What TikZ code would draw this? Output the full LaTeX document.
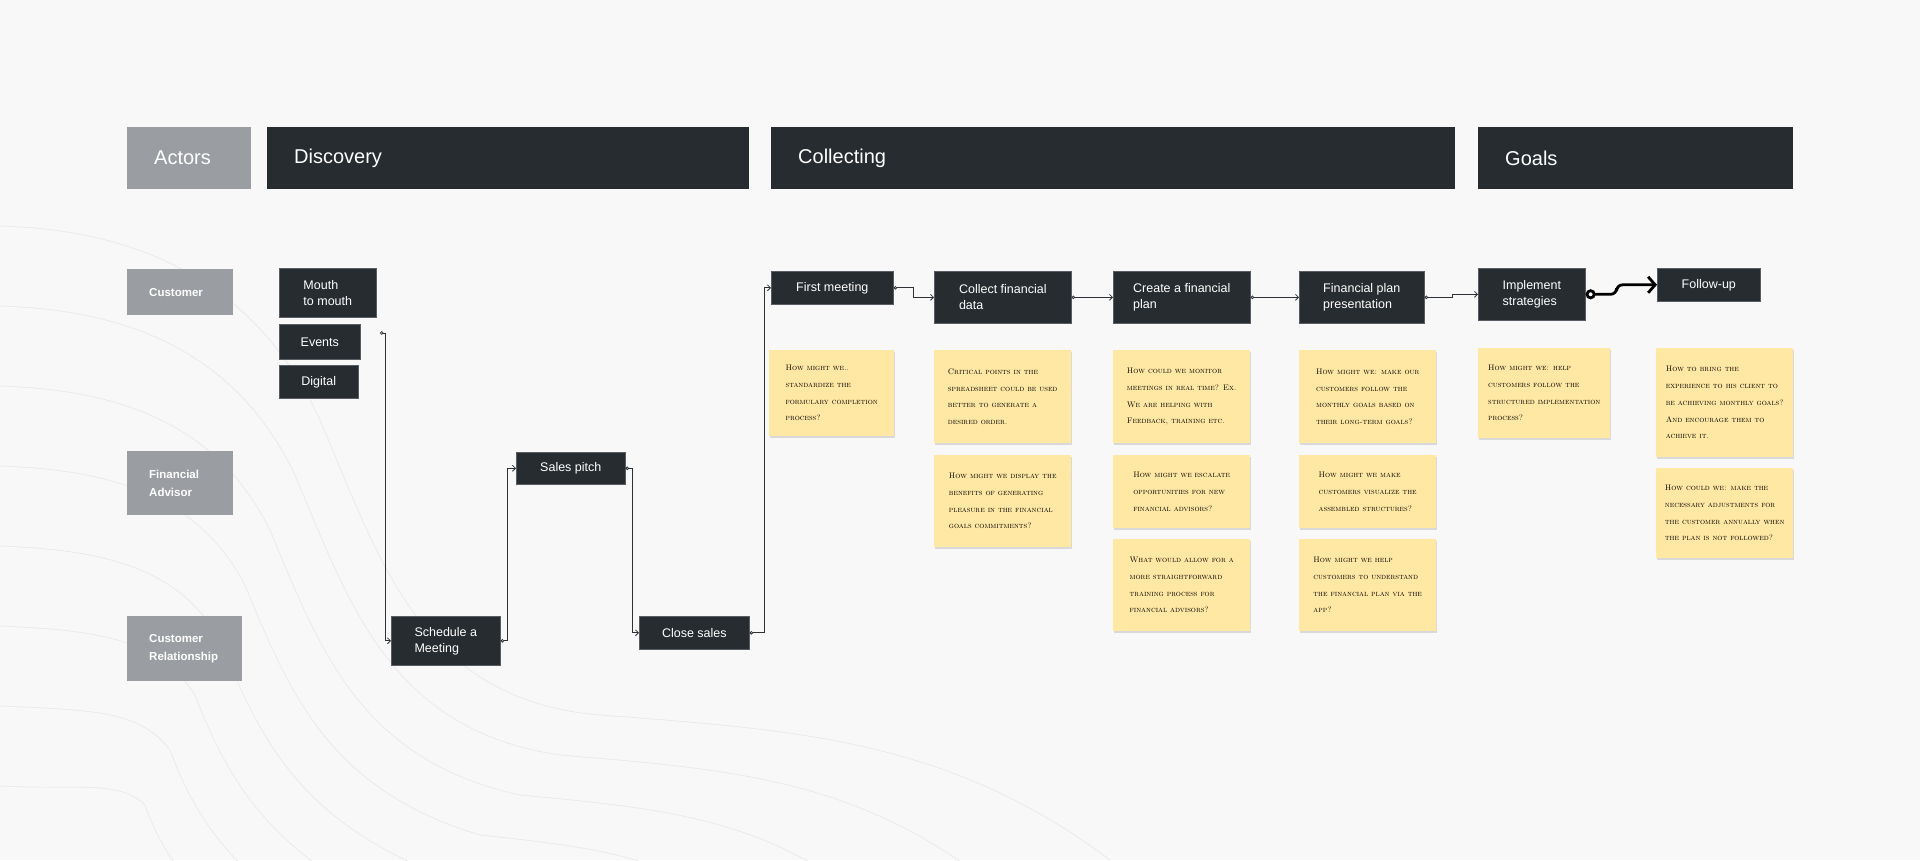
\documentclass[tikz,border=0pt]{standalone}
\usepackage{fontspec}
\setsansfont{Liberation Sans}
\usetikzlibrary{arrows.meta,shadows}

\definecolor{boxdark}{HTML}{262C30}
\definecolor{boxline}{HTML}{575D62}
\definecolor{actorgray}{HTML}{9A9DA1}
\definecolor{notey}{HTML}{FFE8A4}
\definecolor{bgpaper}{HTML}{F8F8F8}
\definecolor{contour}{HTML}{E9E9E9}
\definecolor{wire}{HTML}{2E3236}

\begin{document}
\begin{tikzpicture}[x=1pt, y=-1pt,
  every node/.style={anchor=north west, inner ysep=0pt},
  phase/.style={fill=boxdark, text=white, font=\sffamily\fontsize{20}{24}\selectfont,
    minimum height=62pt, inner xsep=27pt, align=left},
  actor/.style={fill=actorgray, text=white, font=\sffamily\bfseries\fontsize{11.5}{18}\selectfont,
    inner xsep=22pt, align=left},
  flowbox/.style={fill=boxdark, draw=boxline, line width=.6pt, text=white,
    font=\sffamily\fontsize{12.5}{16}\selectfont, inner xsep=0pt, align=left},
  note/.style={fill=notey, drop shadow={shadow xshift=1pt, shadow yshift=-2pt, opacity=.12, fill=black},
    text=black, font=\rmfamily\scshape\fontsize{8}{16.7}\selectfont, inner xsep=0pt, align=left},
  flow/.style={draw=wire, line width=.8pt,
    {Circle[open,length=3.5pt,fill=bgpaper]}-{Straight Barb[length=3pt,width=6pt]}},
  bigflow/.style={draw=black, line width=2.8pt, rounded corners=6pt,
    {Circle[open,length=10pt,fill=white]}-{Straight Barb[length=7pt,width=16pt]}},
  contour/.style={draw=contour, line width=.7pt}]

\useasboundingbox (0,0) rectangle (1920,860);
\fill[bgpaper] (0,0) rectangle (1920,860);

% background lines
\begin{scope}
\clip (0,0) rectangle (1920,860);
\foreach \k in {0,...,7}
  \draw[contour] (0,226+80*\k) .. controls (150-10*\k,230+80*\k) and (260-20*\k,290+70*\k) .. (320-25*\k,420+55*\k)
    .. controls (380-30*\k,560+45*\k) and (420-30*\k,700+30*\k) .. (600-40*\k,715+40*\k)
    .. controls (800-60*\k,730+40*\k) and (950-80*\k,740+40*\k) .. (1110-100*\k,860+40*\k);
\end{scope}

% phases
\node[phase, fill=actorgray, text width=70pt] (actors) at (127,127) {Actors};
\node[phase, text width=428pt] (discovery) at (267,127) {Discovery};
\node[phase, text width=630pt] (collecting) at (771,127) {Collecting};
\node[phase, text width=261pt] (goals) at (1478,127) {Goals};

% actors
\node[actor, text width=62pt, minimum height=46pt] (customer) at (127,269) {Customer};
\node[actor, text width=62pt, minimum height=64pt] (advisor) at (127,451) {Financial\\Advisor};
\node[actor, text width=71pt, minimum height=65pt] (relation) at (127,616) {Customer\\Relationship};

% discovery
\node[flowbox, minimum width=97pt, minimum height=49pt] (mouth) at (279,268) {Mouth\\to mouth};
\node[flowbox, minimum width=81pt, minimum height=35pt] (events) at (279,324) {Events};
\node[flowbox, minimum width=79pt, minimum height=33pt] (digital) at (279,365) {Digital};
\node[flowbox, minimum width=109pt, minimum height=49pt] (schedule) at (391,616) {Schedule a\\Meeting};
\node[flowbox, minimum width=109pt, minimum height=32pt] (pitch) at (516,452) {Sales pitch};
\node[flowbox, minimum width=110pt, minimum height=33pt] (close) at (639,616) {Close sales};
\coordinate (src) at (380,333);

% collecting
\node[flowbox, minimum width=122pt, minimum height=33pt] (first) at (771,271) {First meeting};
\node[flowbox, minimum width=137pt, minimum height=52pt] (collect) at (934,271) {Collect financial\\data};
\node[flowbox, minimum width=137pt, minimum height=52pt] (create) at (1113,271) {Create a financial\\plan};
\node[flowbox, minimum width=125pt, minimum height=52pt] (present) at (1299,271) {Financial plan\\presentation};

% goals
\node[flowbox, minimum width=107pt, minimum height=52pt] (implement) at (1478,268) {Implement\\strategies};
\node[flowbox, minimum width=103pt, minimum height=33pt] (follow) at (1657,268) {Follow-up};

% connectors
\draw[flow] (src) -- ++(5,0) |- (schedule.west);
\draw[flow] (schedule.east) -- ++(7,0) |- (pitch.west);
\draw[flow] (pitch.east) -- ++(7,0) |- (close.west);
\draw[flow] (close.east) -- ++(15,0) |- (first.west);
\draw[flow] (first.east) -- ++(20,0) |- (collect.west);
\draw[flow] (collect.east) -- (create.west);
\draw[flow] (create.east) -- (present.west);
\draw[flow] (present.east) -- ++(28,0) |- (implement.west);
\draw[bigflow] (implement.east) -- ++(31,0) |- (follow.west);

% sticky notes
\node[note, minimum width=125pt, minimum height=86pt] (n1) at (769,350)
  {How might we..\\standardize the\\formulary completion\\process?};
\node[note, minimum width=137pt, minimum height=93pt] (n2a) at (934,350)
  {Critical points in the\\spreadsheet could be used\\better to generate a\\desired order.};
\node[note, minimum width=137pt, minimum height=92pt] (n2b) at (934,455)
  {How might we display the\\benefits of generating\\pleasure in the financial\\goals commitments?};
\node[note, minimum width=137pt, minimum height=93pt] (n3a) at (1113,350)
  {How could we monitor\\meetings in real time? Ex.\\We are helping with\\Feedback, training etc.};
\node[note, minimum width=137pt, minimum height=73pt] (n3b) at (1113,455)
  {How might we escalate\\opportunities for new\\financial advisors?};
\node[note, minimum width=137pt, minimum height=92pt] (n3c) at (1113,539)
  {What would allow for a\\more straightforward\\training process for\\financial advisors?};
\node[note, minimum width=137pt, minimum height=93pt] (n4a) at (1299,350)
  {How might we: make our\\customers follow the\\monthly goals based on\\their long-term goals?};
\node[note, minimum width=137pt, minimum height=73pt] (n4b) at (1299,455)
  {How might we make\\customers visualize the\\assembled structures?};
\node[note, minimum width=137pt, minimum height=92pt] (n4c) at (1299,539)
  {How might we help\\customers to understand\\the financial plan via the\\app?};
\node[note, minimum width=132pt, minimum height=90pt] (n5) at (1478,348)
  {How might we: help\\customers follow the\\structured implementation\\process?};
\node[note, minimum width=137pt, minimum height=109pt] (n6a) at (1656,348)
  {How to bring the\\experience to his client to\\be achieving monthly goals?\\And encourage them to\\achieve it.};
\node[note, minimum width=137pt, minimum height=90pt] (n6b) at (1656,468)
  {How could we: make the\\necessary adjustments for\\the customer annually when\\the plan is not followed?};
\end{tikzpicture}
\end{document}
